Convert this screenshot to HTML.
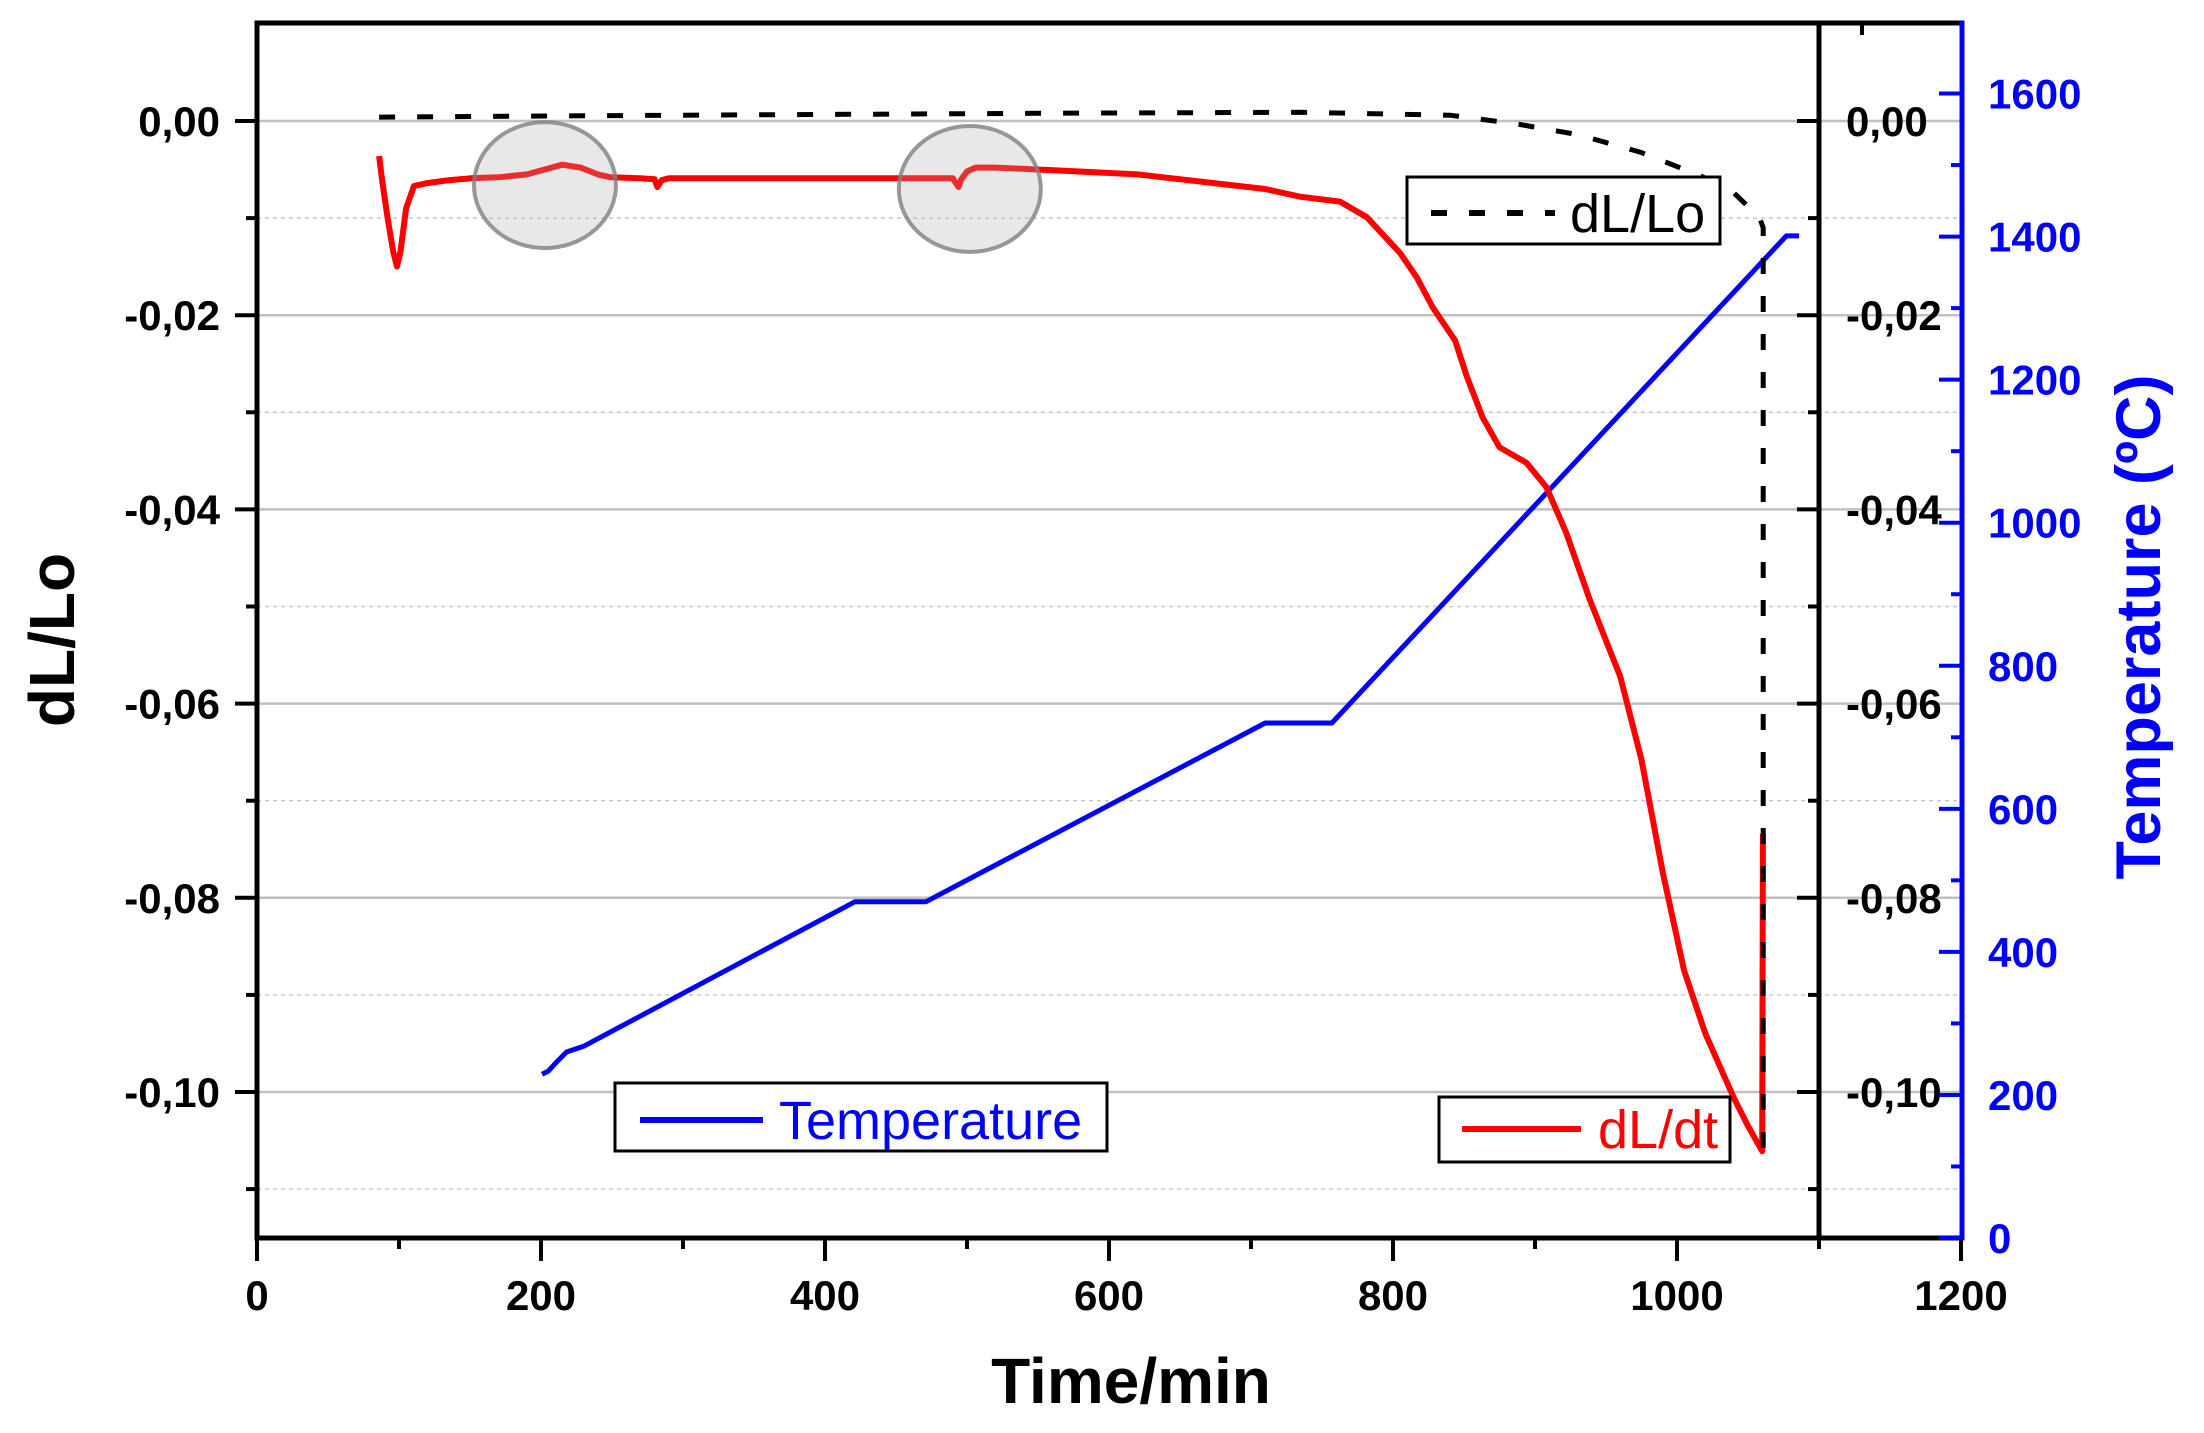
<!DOCTYPE html>
<html><head><meta charset="utf-8"><style>
html,body{margin:0;padding:0;background:#fff;}
svg{display:block;font-family:"Liberation Sans",Arial,sans-serif;}
</style></head><body>
<svg id="chart" xmlns="http://www.w3.org/2000/svg" width="2204" height="1433" viewBox="0 0 2204 1433">
<rect x="0" y="0" width="2204" height="1433" fill="#fff"/>
<g id="grid"></g>
<g id="series"></g>
<g id="axes"></g>
<g id="legends"></g>
</svg>
<script>
const xTicks = [0,200,400,600,800,1000,1200];
const xTickLabels = ["0","200","400","600","800","1000","1200"];
const yTicks = [0,-0.02,-0.04,-0.06,-0.08,-0.10];
const yTickLabels = ["0,00","-0,02","-0,04","-0,06","-0,08","-0,10"];
const tempTicks = [0,200,400,600,800,1000,1200,1400,1600];
const tempTickLabels = ["0","200","400","600","800","1000","1200","1400","1600"];

const dtTime = [86,88,92,96,98.6,101,105,110.5,120,135,151,170,190,205,215,228,240,249,270,280,282,285,290,350,420,490,494,496,500,506,520,565,620,680,710,734.5,762.7,781.5,805,816.7,828,843.7,852,863,875,894,908,922,938.6,960,975,990,1005,1020,1040,1050,1060,1060.5];
const dtValues = [-0.0036,-0.0060,-0.0100,-0.0135,-0.0150,-0.0135,-0.0090,-0.0067,-0.0064,-0.0061,-0.0059,-0.0058,-0.0055,-0.0049,-0.0045,-0.0048,-0.0055,-0.0058,-0.0059,-0.0060,-0.0068,-0.0061,-0.0059,-0.0059,-0.0059,-0.0059,-0.0068,-0.0060,-0.0052,-0.0048,-0.0048,-0.0051,-0.0055,-0.0065,-0.0070,-0.0078,-0.0083,-0.0099,-0.0136,-0.0161,-0.0192,-0.0226,-0.0263,-0.0305,-0.0336,-0.0352,-0.0377,-0.0424,-0.0493,-0.0572,-0.0658,-0.0774,-0.0875,-0.0940,-0.1006,-0.1035,-0.1061,-0.0734];

const loTime = [86,300,565,734.5,840,887,930,974,1016,1040,1058,1060.7,1060.7];
const loValues = [0.0004,0.0006,0.0008,0.0009,0.0006,-0.0003,-0.0014,-0.0032,-0.0056,-0.0074,-0.0099,-0.0110,-0.1060];

const tempTime = [200.7,205,212,218,230,421,471,710,757,1077,1086];
const tempValues = [229,233,248,260,268,470,470,720,720,1401,1401];

const highlightTime = [202.8,502];
const highlightValues = [-0.0066,-0.0070];

const NS="http://www.w3.org/2000/svg";
const X0=257, XS=1.42;
const xs = t => X0 + t*XS;
const ys = v => 121 - v*9710;
const ts = T => 1238 - T*0.7153;
const L=257, R=1962, T0=23, B=1238, RB=1819;

function mk(parent, tag, attrs){
  const e=document.createElementNS(NS,tag);
  for(const k in attrs) e.setAttribute(k,attrs[k]);
  parent.appendChild(e); return e;
}
const grid=document.getElementById('grid'), series=document.getElementById('series'), axes=document.getElementById('axes'), legends=document.getElementById('legends');

// grid lines
for(let i=0;i<=11;i++){
  const v=-i*0.01, y=ys(v);
  const g=mk(grid,'line',{x1:L,x2:R,y1:y,y2:y,stroke:i%2?'#c8c8c8':'#c0c0c0','stroke-width':i%2?1.5:2.5});
  if(i%2) g.setAttribute('stroke-dasharray','4 4');
  
  
}

function poly(xsArr, ysArr, fy, color, w, name, dash){
  const pts=xsArr.map((t,i)=>xs(t).toFixed(1)+','+fy(ysArr[i]).toFixed(1)).join(' ');
  const p=mk(series,'polyline',{points:pts,fill:'none',stroke:color,'stroke-width':w,'stroke-linejoin':'round'});
  if(dash) p.setAttribute('stroke-dasharray',dash);
  
  
  return p;
}
poly(tempTime,tempValues,ts,'#0000ff',5,'temperature-line');
poly(dtTime,dtValues,ys,'#ff0000',6,'dl-dt-line');
poly(loTime,loValues,ys,'#000',5,'dl-lo-line','16 22');

// highlight ellipses
for(let i=0;i<highlightTime.length;i++){
  const e=mk(series,'ellipse',{cx:xs(highlightTime[i]),cy:ys(highlightValues[i]),rx:71,ry:63,fill:'rgba(170,170,170,0.27)',stroke:'rgba(128,128,128,0.8)','stroke-width':4});
  
  
}

// axes frame
const frame=[[L,T0,R,T0,'#000'],[L,T0,L,B,'#000'],[L,B,R,B,'#000'],[RB,T0,RB,B,'#000'],[R,T0,R,B,'#0000ff']];
frame.forEach(f=>{
  const l=mk(axes,'line',{x1:f[0],y1:f[1],x2:f[2],y2:f[3],stroke:f[4],'stroke-width':5,'stroke-linecap':'square'});
  
  
});
// x ticks
for(let t=0;t<=1200;t+=100){
  const maj=t%200===0;
  const l=mk(axes,'line',{x1:xs(t),x2:xs(t),y1:B,y2:B+(maj?23:11),stroke:'#000','stroke-width':4});
  
  
}
xTicks.forEach((t,i)=>{
  const tx=mk(axes,'text',{x:xs(t),y:1310,'text-anchor':'middle','font-size':42,'font-weight':'bold',fill:'#000'});
  tx.textContent=xTickLabels[i];
  
  
});
// left & right-black y ticks
for(let i=0;i<=11;i++){
  const y=ys(-i*0.01), maj=i%2===0;
  const a=mk(axes,'line',{x1:L-(maj?22:11),x2:L,y1:y,y2:y,stroke:'#000','stroke-width':4});
  
  
  const b=mk(axes,'line',{x1:RB-(maj?22:11),x2:RB,y1:y,y2:y,stroke:'#000','stroke-width':4});
  
  
}
yTicks.forEach((v,i)=>{
  const a=mk(axes,'text',{x:220,y:ys(v)+15,'text-anchor':'end','font-size':42,'font-weight':'bold',fill:'#000'});
  a.textContent=yTickLabels[i];
  
  
  const b=mk(axes,'text',{x:1846,y:ys(v)+15,'text-anchor':'start','font-size':42,'font-weight':'bold',fill:'#000'});
  b.textContent=yTickLabels[i];
  
  
});
// temperature ticks
for(let T=0;T<=1650;T+=100){
  const maj=T%200===0;
  const l=mk(axes,'line',{x1:R-(maj?23:11),x2:R,y1:ts(T),y2:ts(T),stroke:'#0000ff','stroke-width':4});
  
  
}
tempTicks.forEach((T,i)=>{
  const a=mk(axes,'text',{x:1988,y:ts(T)+15,'text-anchor':'start','font-size':42,'font-weight':'bold',fill:'#0000ff'});
  a.textContent=tempTickLabels[i];
  
  
});
// top small tick
const tt=mk(axes,'line',{x1:1862,x2:1862,y1:T0,y2:35,stroke:'#000','stroke-width':4});



// axis titles
const xt=mk(axes,'text',{x:1131,y:1403,'text-anchor':'middle','font-size':64,'font-weight':'bold',fill:'#000'});
xt.textContent='Time/min';


const yt=mk(axes,'text',{x:0,y:0,'text-anchor':'middle','font-size':64,'font-weight':'bold',fill:'#000',transform:'translate(74,640) rotate(-90)'});
yt.textContent='dL/Lo';


const rt=mk(axes,'text',{x:0,y:0,'text-anchor':'middle','font-size':63,'font-weight':'bold',fill:'#0000ff',transform:'translate(2160,627) rotate(-90)'});
rt.textContent='Temperature (ºC)';



// legends
function legend(name,bx,by,bw,bh,lx1,lx2,ly,color,dash,label,tx){
  const g=mk(legends,'g',{});
  
  
  mk(g,'rect',{x:bx,y:by,width:bw,height:bh,fill:'#fff',stroke:'#000','stroke-width':3});
  const l=mk(g,'line',{x1:lx1,x2:lx2,y1:ly,y2:ly,stroke:color,'stroke-width':6});
  if(dash) l.setAttribute('stroke-dasharray',dash);
  const t=mk(g,'text',{x:tx,y:ly+19,'font-size':54,fill:color==='#000'?'#000':color});
  t.textContent=label;
}
legend('legend-dl-lo',1407,177,313,67,1431,1555,213,'#000','16 22','dL/Lo',1570);
legend('legend-temperature',615,1083,492,68,640,763,1120,'#0000ff',null,'Temperature',779);
legend('legend-dl-dt',1439,1097,291,65,1462,1581,1129,'#ff0000',null,'dL/dt',1598);
</script>
</body></html>
